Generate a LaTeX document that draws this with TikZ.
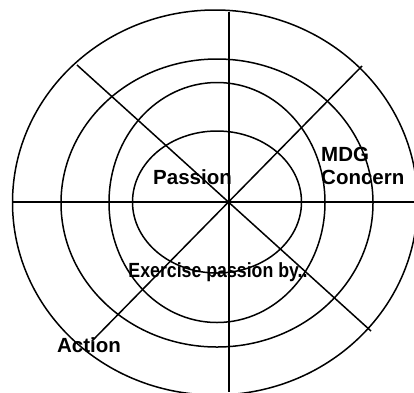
\documentclass[tikz,border=0pt]{standalone}
\usepackage{fontspec}
\setmainfont{Liberation Sans}
\begin{document}
\begin{tikzpicture}[x=1pt,y=-1pt,
  ring/.style={draw=black,line width=1.5pt},
  spoke/.style={draw=black,line width=1.5pt},
  lbl/.style={inner sep=0pt,font=\fontsize{20.5}{24}\selectfont\bfseries,align=left}]
\useasboundingbox (0,0) rectangle (414,392);
\fill[white] (0,0) rectangle (414,392);
% rings
\draw[ring] (217,202) ellipse [x radius=84.5, y radius=71];
\draw[ring] (217,202.5) ellipse [x radius=108, y radius=120];
\draw[ring] (217,203) ellipse [x radius=156, y radius=144];
\draw[ring] (215,202.5) ellipse [x radius=202.5, y radius=192.5];
% spoke end points
\coordinate (c) at (229,202);
\coordinate (top) at (229,12);
\coordinate (bot) at (229,392);
\coordinate (lft) at (13,202);
\coordinate (rgt) at (414,202);
\coordinate (tl) at (77,65);
\coordinate (br) at (371,331);
\coordinate (tr) at (362,66);
\coordinate (bl) at (92,341);
\draw[spoke] (top) -- (bot);
\draw[spoke] (lft) -- (rgt);
\draw[spoke] (tl) -- (br);
\draw[spoke] (tr) -- (bl);
% labels
\node[lbl] (passion) at (192.5,177) {Passion};
\node[lbl,anchor=west] (mdg) at (321,166) {MDG\\[-1pt]Concern};
\node[lbl] (action) at (89,345) {Action};
\node[lbl] (exercise) at (218,272) {\scalebox{0.865}[1]{Exercise passion by..}};
\end{tikzpicture}
\end{document}
